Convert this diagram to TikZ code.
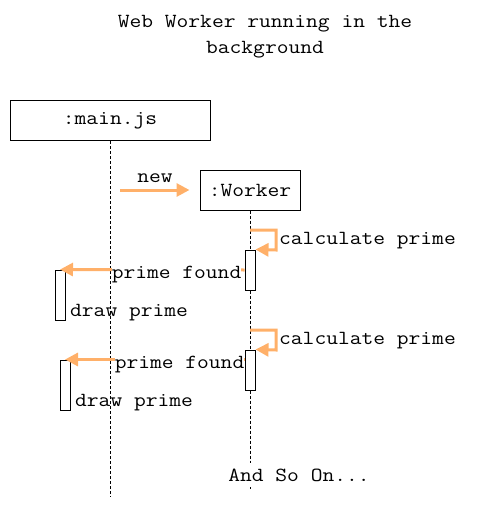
\documentclass[tikz,border=0pt]{standalone}
\usepackage{fontspec}
\setmonofont[FakeStretch=1.143]{Latin Modern Mono}
\usetikzlibrary{arrows.meta}
\definecolor{msgorange}{RGB}{255,176,105}
\tikzset{
  txt/.style={font=\ttfamily\fontsize{20}{25}\selectfont, inner sep=0pt},
  obj/.style={draw, line width=1pt, fill=white, minimum height=40pt, inner sep=0pt, font=\ttfamily\fontsize{20}{25}\selectfont},
  bar/.style={draw, line width=1pt, fill=white, minimum width=10pt, inner sep=0pt},
  life/.style={line width=1pt, dash pattern=on 3pt off 2pt},
  msg/.style={draw=msgorange, line width=3pt, -{Triangle[length=13pt,width=13pt]}},
}
\begin{document}
\begin{tikzpicture}[x=1pt,y=-1pt]
\useasboundingbox (0,0) rectangle (491,511);
% title
\node[txt, anchor=base] (title1) at (265,28) {Web Worker running in the};
\node[txt, anchor=base] (title2) at (265,53) {background};
% objects
\node[obj, minimum width=200pt] (main) at (110,120.5) {:main.js};
\node[obj, minimum width=100pt] (worker) at (250,190) {:Worker};
% lifelines
\coordinate (mainend) at (110,497);
\coordinate (workerend) at (250,489);
\draw[life] (main.south) -- (mainend);
\draw[life] (worker.south) -- (workerend);
% bars
\node[bar, minimum height=40pt] (wb1) at (250,270) {};
\node[bar, minimum height=40pt] (wb2) at (250,370) {};
\node[bar, minimum height=50pt] (mb1) at (60,295) {};
\node[bar, minimum height=50pt] (mb2) at (65,385) {};
% new
\coordinate (newstart) at (120,190);
\draw[msg, shorten >=10pt] (newstart) -- (worker.west);
\node[txt, anchor=base] (newlbl) at (155,182) {new};
% self messages
\coordinate (self1) at (250,230);
\coordinate (self2) at (250,330);
\draw[msg] (self1) -- (276,230) -- (276,250) -- (wb1.north east);
\draw[msg] (self2) -- (276,330) -- (276,350) -- (wb2.north east);
\node[txt, anchor=base west] (calc1) at (279,244) {calculate prime};
\node[txt, anchor=base west] (calc2) at (279,344) {calculate prime};
% prime found
\draw[msg] (wb1.west) -- (mb1.north);
\draw[msg] (wb2.west |- mb2.north) -- (mb2.north);
\node[txt, anchor=base east, fill=white] (found1) at (241.5,278) {prime found};
\node[txt, anchor=base east, fill=white] (found2) at (244.5,368) {prime found};
\node[txt, anchor=base west] (draw1) at (70,316) {draw prime};
\node[txt, anchor=base west] (draw2) at (75,406) {draw prime};
% and so on
\node[txt, anchor=base, fill=white, inner xsep=2pt, inner ysep=6pt] (andso) at (299,481) {And So On...};
\end{tikzpicture}
\end{document}
